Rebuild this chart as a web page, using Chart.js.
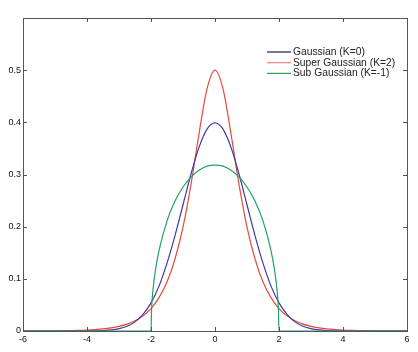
<!DOCTYPE html>
<html>
<head>
<meta charset="utf-8">
<script src="https://cdn.jsdelivr.net/npm/chart.js@4.4.1/dist/chart.umd.min.js"></script>
<style>
  html, body { margin: 0; padding: 0; background: #fff; }
  #wrap { width: 418px; height: 352px; }
</style>
</head>
<body>
<div id="wrap"><canvas id="grafico"></canvas></div>
<script>
// x grid shared by the gaussian and super gaussian curves
const xValues = [-6, -5.75, -5.5, -5.25, -5, -4.75, -4.5, -4.25, -4, -3.75, -3.5, -3.25, -3, -2.75, -2.5, -2.25, -2, -1.75, -1.5, -1.25, -1, -0.75, -0.5, -0.25,
  0, 0.25, 0.5, 0.75, 1, 1.25, 1.5, 1.75, 2, 2.25, 2.5, 2.75, 3, 3.25, 3.5, 3.75, 4, 4.25, 4.5, 4.75, 5, 5.25, 5.5, 5.75, 6];

const gaussHalf = [0.399, 0.387, 0.352, 0.301, 0.242, 0.183, 0.130, 0.086, 0.054, 0.032, 0.0175, 0.0091, 0.0044, 0.0020, 0.0009, 0.0004, 0.0001, 0, 0, 0, 0, 0, 0, 0, 0];
const superHalf = [0.500, 0.464, 0.378, 0.281, 0.199, 0.138, 0.094, 0.064, 0.043, 0.029, 0.0197, 0.0133, 0.0090, 0.0061, 0.0041, 0.0028, 0.0019, 0.0013, 0.0009, 0.0006, 0.0004, 0.0003, 0.0002, 0.0001, 0.0001];

// sub gaussian has its own x points (steep edges at +-2)
const subX = [-6, -2, -1.98, -1.95, -1.9, -1.85, -1.75, -1.5, -1.25, -1, -0.75, -0.5, -0.25, 0, 0.25, 0.5, 0.75, 1, 1.25, 1.5, 1.75, 1.85, 1.9, 1.95, 1.98, 2, 6];
const subValues = [0, 0, 0.045, 0.071, 0.099, 0.121, 0.154, 0.211, 0.249, 0.276, 0.295, 0.308, 0.316, 0.318, 0.316, 0.308, 0.295, 0.276, 0.249, 0.211, 0.154, 0.121, 0.099, 0.071, 0.045, 0, 0];

const xTicks = [-6, -4, -2, 0, 2, 4, 6];
const yTicks = [0, 0.1, 0.2, 0.3, 0.4, 0.5];
const labels = ['Gaussian (K=0)', 'Super Gaussian (K=2)', 'Sub Gaussian (K=-1)'];
const cores = ['#3b3ba6', '#e64a3a', '#23a066'];
const coresLegenda = ['#1a1a40', '#f08080', '#30a060'];

// mirror the half curves around 0
function espelhar(meia) {
  const esq = meia.slice(1).reverse();
  return esq.concat(meia);
}
const gaussValues = espelhar(gaussHalf);
const superValues = espelhar(superHalf);

function pontos(xs, ys) {
  return xs.map((x, i) => ({ x: x, y: ys[i] }));
}

// frame, inward ticks on all four sides and the legend
const moldura = {
  id: 'moldura',
  afterDraw(chart) {
    const c = chart.ctx;
    const a = chart.chartArea;
    const sx = chart.scales.x, sy = chart.scales.y;
    c.save();
    c.strokeStyle = '#555';
    c.lineWidth = 1;
    c.strokeRect(Math.round(a.left) + 0.5, Math.round(a.top) + 0.5, Math.round(a.right - a.left), Math.round(a.bottom - a.top));
    c.beginPath();
    xTicks.forEach(v => {
      const px = Math.round(sx.getPixelForValue(v)) + 0.5;
      c.moveTo(px, a.bottom); c.lineTo(px, a.bottom - 4);
      c.moveTo(px, a.top); c.lineTo(px, a.top + 4);
    });
    yTicks.forEach(v => {
      const py = Math.round(sy.getPixelForValue(v)) + 0.5;
      c.moveTo(a.left, py); c.lineTo(a.left + 4, py);
      c.moveTo(a.right, py); c.lineTo(a.right - 4, py);
    });
    c.stroke();

    c.font = '10.3px "Liberation Sans", Arial, sans-serif';
    c.textBaseline = 'middle';
    c.fillStyle = '#222';
    labels.forEach((t, i) => {
      const y = 52 + i * 10.7;
      c.strokeStyle = coresLegenda[i];
      c.lineWidth = 1.2;
      c.beginPath();
      c.moveTo(267, y); c.lineTo(291, y);
      c.stroke();
      c.fillText(t, 293, y);
    });
    c.restore();
  }
};

const ctx = document.getElementById('grafico');

new Chart(ctx, {
  type: 'line',
  data: {
    datasets: [
      { label: labels[2], data: pontos(subX, subValues), borderColor: cores[2] },
      { label: labels[0], data: pontos(xValues, gaussValues), borderColor: cores[0] },
      { label: labels[1], data: pontos(xValues, superValues), borderColor: cores[1] }
    ]
  },
  options: {
    responsive: true,
    maintainAspectRatio: false,
    animation: false,
    elements: {
      point: { radius: 0 },
      line: { borderWidth: 1.2, cubicInterpolationMode: 'monotone', fill: false }
    },
    layout: { padding: { top: 18, right: 11, left: 0, bottom: 0 } },
    plugins: { legend: { display: false }, tooltip: { enabled: false } },
    scales: {
      x: {
        type: 'linear',
        min: -6,
        max: 6,
        afterBuildTicks: s => { s.ticks = xTicks.map(v => ({ value: v })); },
        afterFit: s => { s.height = 21; },
        grid: { display: false, drawTicks: false },
        border: { display: false },
        ticks: { color: '#111', font: { size: 9, family: 'Liberation Sans' }, padding: 3, maxRotation: 0 }
      },
      y: {
        type: 'linear',
        min: 0,
        max: 0.6,
        afterBuildTicks: s => { s.ticks = yTicks.map(v => ({ value: v })); },
        afterFit: s => { s.width = 23; },
        grid: { display: false, drawTicks: false },
        border: { display: false },
        ticks: { color: '#111', font: { size: 9, family: 'Liberation Sans' }, padding: 2,
          callback: v => (v === 0 ? '0' : v.toFixed(1)) }
      }
    }
  },
  plugins: [moldura]
});
</script>
</body>
</html>
